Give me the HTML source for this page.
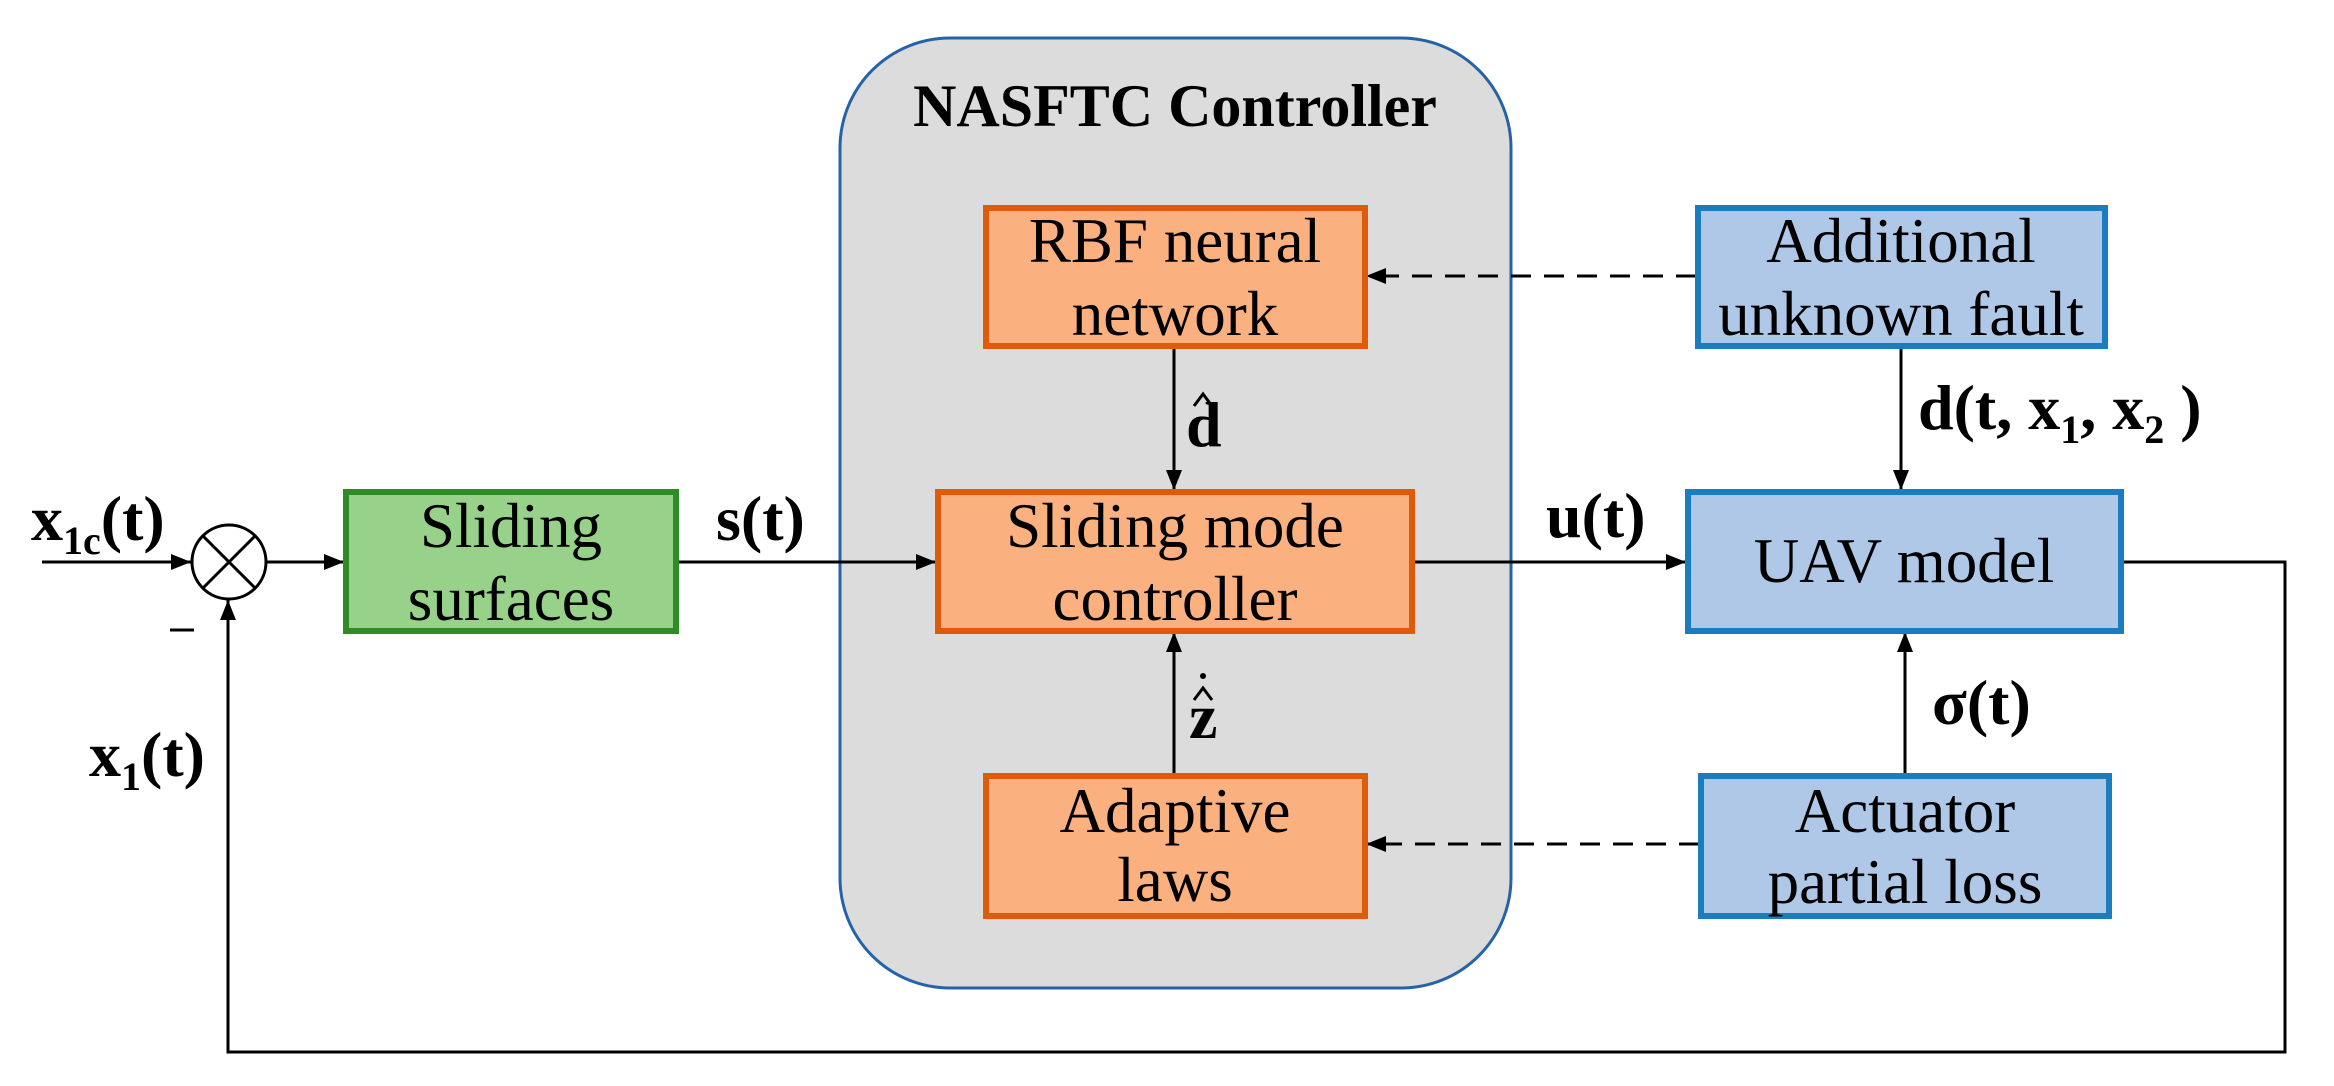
<!DOCTYPE html>
<html><head><meta charset="utf-8"><style>html,body{margin:0;padding:0;background:#fff}svg{display:block}</style></head>
<body>
<svg width="2334" height="1086" viewBox="0 0 2334 1086" xmlns="http://www.w3.org/2000/svg" font-family="Liberation Serif, serif">
<defs>
<marker id="b" viewBox="0 0 10 10" refX="10" refY="5" markerWidth="20" markerHeight="20" markerUnits="userSpaceOnUse" orient="auto"><path d="M0,1 L10,5 L0,9 z" fill="#000"/></marker>
</defs>
<rect x="840" y="38" width="671" height="950" rx="110" fill="#dcdcdc" stroke="#2563a8" stroke-width="3"/>
<text x="1175" y="126" font-size="60" font-weight="bold" text-anchor="middle">NASFTC Controller</text>

<g stroke="#000" stroke-width="3" fill="none">
<line x1="42" y1="562" x2="191" y2="562" marker-end="url(#b)"/>
<circle cx="229" cy="562" r="37"/>
<line x1="203" y1="536" x2="255" y2="588"/><line x1="255" y1="536" x2="203" y2="588"/>
<line x1="266" y1="562" x2="344" y2="562" marker-end="url(#b)"/>
<line x1="677" y1="562" x2="936" y2="562" marker-end="url(#b)"/>
<line x1="1413" y1="562" x2="1686" y2="562" marker-end="url(#b)"/>
<polyline points="2122,562 2285,562 2285,1052 228,1052 228,600" marker-end="url(#b)"/>
<line x1="1174" y1="347" x2="1174" y2="490" marker-end="url(#b)"/>
<line x1="1174" y1="774" x2="1174" y2="632" marker-end="url(#b)"/>
<line x1="1901" y1="347" x2="1901" y2="490" marker-end="url(#b)"/>
<line x1="1905" y1="774" x2="1905" y2="632" marker-end="url(#b)"/>
<line x1="1696" y1="276" x2="1366" y2="276" stroke-dasharray="20,13" marker-end="url(#b)"/>
<line x1="1699" y1="844" x2="1366" y2="844" stroke-dasharray="20,13" marker-end="url(#b)"/>
</g>
<line x1="170" y1="630" x2="194" y2="630" stroke="#000" stroke-width="3"/>

<rect x="346" y="492" width="330" height="139" fill="#98d18a" stroke="#2e8b25" stroke-width="6"/>
<rect x="986" y="208" width="379" height="138" fill="#fbb07f" stroke="#e05a0c" stroke-width="6"/>
<rect x="938" y="492" width="474" height="139" fill="#fbb07f" stroke="#e05a0c" stroke-width="6"/>
<rect x="986" y="776" width="379" height="140" fill="#fbb07f" stroke="#e05a0c" stroke-width="6"/>
<rect x="1698" y="208" width="407" height="138" fill="#afc8e8" stroke="#1a7dc0" stroke-width="6"/>
<rect x="1688" y="492" width="433" height="139" fill="#afc8e8" stroke="#1a7dc0" stroke-width="6"/>
<rect x="1701" y="776" width="408" height="140" fill="#afc8e8" stroke="#1a7dc0" stroke-width="6"/>

<g font-size="63" text-anchor="middle">
<text x="511" y="547">Sliding</text><text x="511" y="620">surfaces</text>
<text x="1175" y="262">RBF neural</text><text x="1175" y="335">network</text>
<text x="1175" y="547">Sliding mode</text><text x="1175" y="620">controller</text>
<text x="1175" y="832">Adaptive</text><text x="1175" y="901">laws</text>
<text x="1901" y="262">Additional</text><text x="1901" y="335">unknown fault</text>
<text x="1904" y="582">UAV model</text>
<text x="1905" y="832">Actuator</text><text x="1905" y="903">partial loss</text>
</g>

<g font-size="64" font-weight="bold">
<text x="31" y="540">x<tspan font-size="40" dy="14">1c</tspan><tspan dy="-14">(t)</tspan></text>
<text x="716" y="540">s(t)</text>
<text x="89" y="776">x<tspan font-size="40" dy="14">1</tspan><tspan dy="-14">(t)</tspan></text>
<text x="1546" y="537">u(t)</text>
<text x="1918" y="429">d(t, x<tspan font-size="40" dy="14">1</tspan><tspan dy="-14">, x</tspan><tspan font-size="40" dy="14">2</tspan><tspan dy="-14"> )</tspan></text>
<text x="1932" y="724">σ(t)</text>
<text x="1186" y="446">d</text>
<text x="1189" y="738">z</text>
</g>
<path d="M1194,406 L1203,394 L1212,406" stroke="#000" stroke-width="3" fill="none"/>
<path d="M1194,700 L1203,688 L1212,700" stroke="#000" stroke-width="3" fill="none"/>
<circle cx="1203" cy="676" r="3" fill="#000"/>
</svg>
</body></html>
